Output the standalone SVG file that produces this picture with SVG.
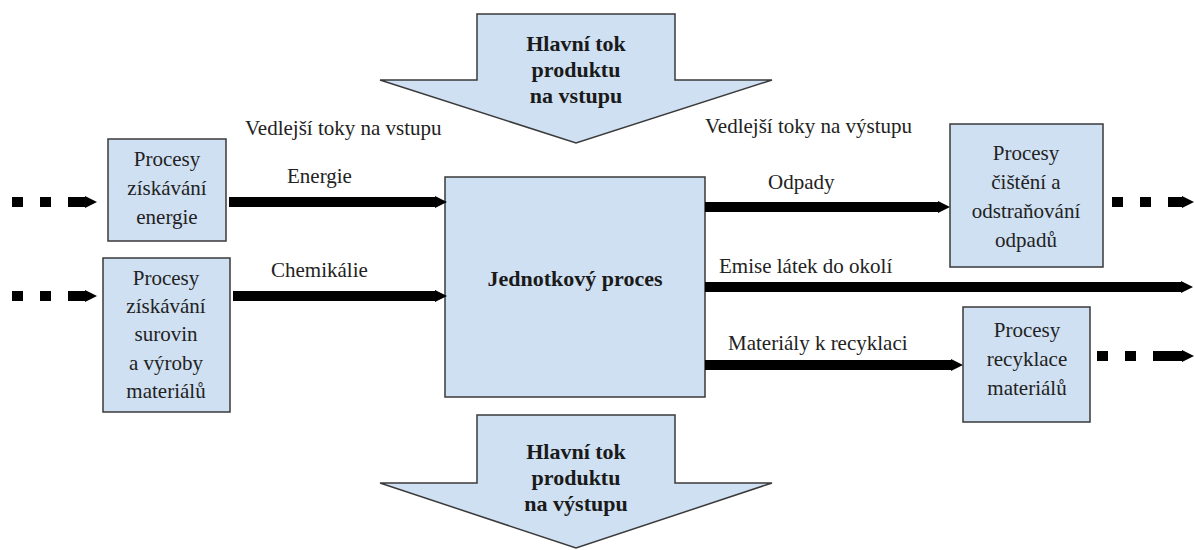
<svg xmlns="http://www.w3.org/2000/svg" width="1195" height="550" viewBox="0 0 1195 550">
<style>
.box{fill:#cfe0f2;stroke:#3a3a3a;stroke-width:1.5}
.t{font-family:'Liberation Serif','Times New Roman','DejaVu Serif',serif;font-size:21px;fill:#222;text-anchor:middle}
.lbl{font-family:'Liberation Serif','Times New Roman','DejaVu Serif',serif;font-size:21px;fill:#222}
.b{font-family:'Liberation Serif','Times New Roman','DejaVu Serif',serif;font-size:22px;font-weight:bold;fill:#1a1a1a;text-anchor:middle}
.ln{stroke:#000;stroke-width:10;fill:none}
.dot{fill:#000}
</style>
<defs>
<marker id="ah" viewBox="0 0 10 10" refX="0" refY="5" markerWidth="1.2" markerHeight="2" orient="auto" markerUnits="strokeWidth">
<path d="M0,0 L10,5 L0,10 z" fill="#000"/>
</marker>
</defs>
<rect width="1195" height="550" fill="#fff"/>

<g id="main-in">
<path class="box" d="M477,14 H675 V80 H772 L576,143 L380,80 H477 Z"/>
<text class="b" x="576" y="51">Hlavní tok</text>
<text class="b" x="576" y="77">produktu</text>
<text class="b" x="576" y="103">na vstupu</text>
</g>
<g id="main-out">
<path class="box" d="M477,415 H675 V483 H772 L576,548 L380,483 H477 Z"/>
<text class="b" x="576" y="459">Hlavní tok</text>
<text class="b" x="576" y="485">produktu</text>
<text class="b" x="576" y="511">na výstupu</text>
</g>

<g id="unit">
<rect class="box" x="445" y="177" width="260" height="220"/>
<text class="b" x="575" y="286">Jednotkový proces</text>
</g>

<g id="energy">
<rect class="box" x="108" y="139" width="118" height="102"/>
<text class="t" x="167" y="166">Procesy</text>
<text class="t" x="167" y="195">získávání</text>
<text class="t" x="167" y="224">energie</text>
</g>
<g id="materials">
<rect class="box" x="103" y="258" width="127" height="154"/>
<text class="t" x="166" y="285">Procesy</text>
<text class="t" x="166" y="313">získávání</text>
<text class="t" x="166" y="341">surovin</text>
<text class="t" x="166" y="370">a výroby</text>
<text class="t" x="166" y="398">materiálů</text>
</g>
<g id="waste">
<rect class="box" x="950" y="124" width="153" height="143"/>
<text class="t" x="1026" y="160">Procesy</text>
<text class="t" x="1026" y="189">čištění a</text>
<text class="t" x="1026" y="218">odstraňování</text>
<text class="t" x="1026" y="247">odpadů</text>
</g>
<g id="recycling">
<rect class="box" x="963" y="307" width="127" height="115"/>
<text class="t" x="1027" y="337">Procesy</text>
<text class="t" x="1027" y="366">recyklace</text>
<text class="t" x="1027" y="395">materiálů</text>
</g>

<g id="labels">
<text class="lbl" x="245" y="135">Vedlejší toky na vstupu</text>
<text class="lbl" x="705" y="133">Vedlejší toky na výstupu</text>
<text class="lbl" x="287" y="183">Energie</text>
<text class="lbl" x="271" y="277">Chemikálie</text>
<text class="lbl" x="768" y="189">Odpady</text>
<text class="lbl" x="719" y="273">Emise látek do okolí</text>
<text class="lbl" x="728" y="350">Materiály k recyklaci</text>
</g>

<g id="connectors">
<line class="ln" x1="229" y1="202" x2="435" y2="202" marker-end="url(#ah)"/>
<line class="ln" x1="233" y1="296" x2="435" y2="296" marker-end="url(#ah)"/>
<line class="ln" x1="705" y1="207" x2="938" y2="207" marker-end="url(#ah)"/>
<line class="ln" x1="705" y1="287" x2="1181" y2="287" marker-end="url(#ah)"/>
<line class="ln" x1="705" y1="365" x2="951" y2="365" marker-end="url(#ah)"/>
<rect class="dot" x="12" y="197" width="11" height="10"/>
<rect class="dot" x="40" y="197" width="11" height="10"/>
<line class="ln" x1="68" y1="202" x2="85" y2="202" marker-end="url(#ah)"/>
<rect class="dot" x="12" y="291" width="11" height="10"/>
<rect class="dot" x="40" y="291" width="11" height="10"/>
<line class="ln" x1="68" y1="296" x2="85" y2="296" marker-end="url(#ah)"/>
<rect class="dot" x="1112" y="197" width="11" height="10"/>
<rect class="dot" x="1140" y="197" width="11" height="10"/>
<line class="ln" x1="1168" y1="202" x2="1182" y2="202" marker-end="url(#ah)"/>
<rect class="dot" x="1097" y="351" width="11" height="10"/>
<rect class="dot" x="1125" y="351" width="11" height="10"/>
<line class="ln" x1="1153" y1="356" x2="1182" y2="356" marker-end="url(#ah)"/>
</g>
</svg>
